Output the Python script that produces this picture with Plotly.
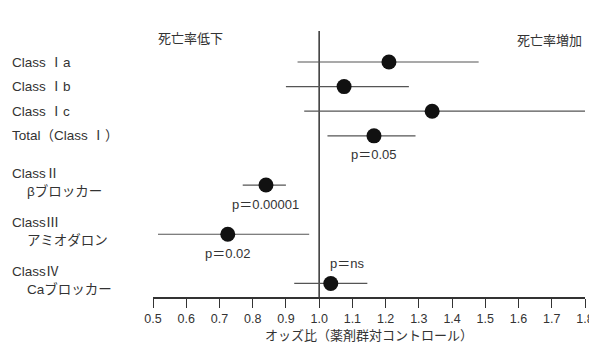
import plotly.graph_objects as go

# ---- data ----
row_labels = ["Class Ⅰa", "Class Ⅰb", "Class Ⅰc", "Total（Class Ⅰ）",
              "ClassⅡ", "ClassⅢ", "ClassⅣ"]
sub_labels = ["", "", "", "", "βブロッカー", "アミオダロン", "Caブロッカー"]
row_pos = [0, 1, 2, 3, 5, 7, 9]
odds_ratio = [1.21, 1.075, 1.34, 1.165, 0.84, 0.725, 1.035]
ci_low = [0.935, 0.90, 0.955, 1.025, 0.77, 0.515, 0.925]
ci_high = [1.48, 1.27, 1.80, 1.29, 0.90, 0.97, 1.145]
p_text = ["", "", "", "p＝0.05", "p＝0.00001", "p＝0.02", "p＝ns"]
x_ticks = [0.5, 0.6, 0.7, 0.8, 0.9, 1.0, 1.1, 1.2, 1.3, 1.4, 1.5, 1.6, 1.7, 1.8]

FONT = "Arial, 'Liberation Sans', 'Noto Sans CJK JP', sans-serif"
TXT = "#333333"
LINE = "#555555"

err_plus = [h - o for h, o in zip(ci_high, odds_ratio)]
err_minus = [o - l for o, l in zip(odds_ratio, ci_low)]

fig = go.Figure()
fig.add_trace(go.Scatter(
    x=odds_ratio, y=row_pos, mode="markers",
    marker=dict(size=15, color="#111111"),
    error_x=dict(type="data", symmetric=False, array=err_plus,
                 arrayminus=err_minus, width=0, thickness=1.2, color=LINE),
    showlegend=False, hoverinfo="skip", cliponaxis=False,
))

# reference line at OR = 1
fig.add_shape(type="line", xref="x", yref="paper", x0=1.0, x1=1.0, y0=0, y1=1,
              line=dict(color="#333333", width=1.5), layer="below")

ann = []
# left row labels
lab_x = (10 - 153) / (585 - 153)
for lab, sub, y in zip(row_labels, sub_labels, row_pos):
    if sub:
        ann.append(dict(x=lab_x, y=y, xref="paper", yref="y", text=lab,
                        xanchor="left", yanchor="middle", yshift=12,
                        showarrow=False, font=dict(size=13.5, color=TXT, family=FONT)))
        ann.append(dict(x=lab_x, y=y, xref="paper", yref="y", text=sub,
                        xanchor="left", yanchor="middle", xshift=15, yshift=-6,
                        showarrow=False, font=dict(size=13.5, color=TXT, family=FONT)))
    else:
        ann.append(dict(x=lab_x, y=y, xref="paper", yref="y", text=lab,
                        xanchor="left", yanchor="middle",
                        showarrow=False, font=dict(size=13.5, color=TXT, family=FONT)))

# p-value labels
for pt, o, y in zip(p_text, odds_ratio, row_pos):
    if not pt:
        continue
    if pt.endswith("ns"):
        ann.append(dict(x=o, y=y, xref="x", yref="y", text=pt, xanchor="center",
                        xshift=16, yshift=20,
                        showarrow=False, font=dict(size=13, color=TXT, family=FONT)))
    else:
        ann.append(dict(x=o, y=y, xref="x", yref="y", text=pt, xanchor="center",
                        yshift=-19,
                        showarrow=False, font=dict(size=13, color=TXT, family=FONT)))

# header annotations
ann.append(dict(x=(190 - 153) / 432, y=1.0, xref="paper", yref="paper",
                text="死亡率低下", showarrow=False, xanchor="center", yanchor="middle",
                yshift=-7, font=dict(size=13, color=TXT, family=FONT)))
ann.append(dict(x=(549 - 153) / 432, y=1.0, xref="paper", yref="paper",
                text="死亡率増加", showarrow=False, xanchor="center", yanchor="middle",
                yshift=-9, font=dict(size=13, color=TXT, family=FONT)))

# page body adds an 8px margin; compensate so the plot area lands where the reference has it
fig.update_layout(
    width=589, height=338,
    margin=dict(l=145, r=12, t=23, b=49, autoexpand=False),
    paper_bgcolor="white", plot_bgcolor="white",
    annotations=ann,
    xaxis=dict(range=[0.5, 1.8], tickvals=x_ticks, tickformat=".1f",
               ticks="outside", ticklen=9, tickwidth=1.3, tickcolor="#333333",
               showline=True, linecolor="#333333", linewidth=1.5,
               showgrid=False, zeroline=False, automargin=False,
               ticklabeloverflow="allow",
               tickfont=dict(size=12.5, color=TXT, family=FONT),
               title=dict(text="オッズ比（薬剤群対コントロール）", standoff=6,
                          font=dict(size=13, color=TXT, family=FONT))),
    yaxis=dict(range=[9.55, -1.26], visible=False, showgrid=False, zeroline=False,
               automargin=False),
)

fig.write_html("out.html")
